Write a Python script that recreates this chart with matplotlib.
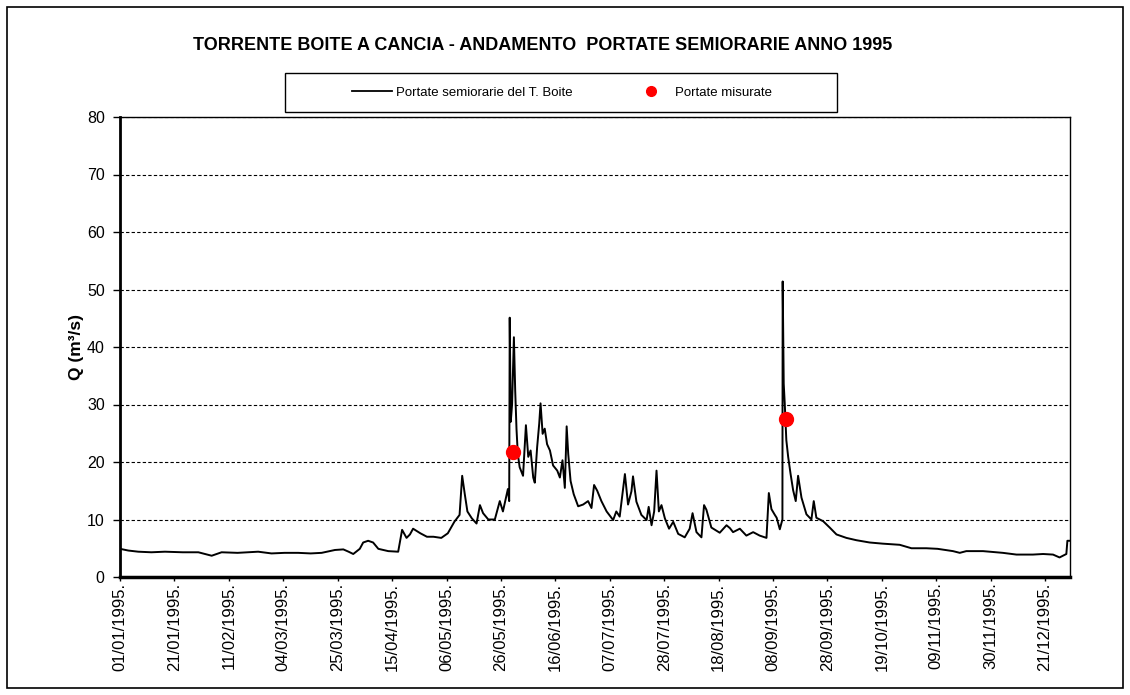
import matplotlib
matplotlib.use("Agg")
import matplotlib.pyplot as plt
import numpy as np
from matplotlib.lines import Line2D
from matplotlib.patches import Rectangle

plt.rcParams['font.family'] = ['Liberation Sans', 'DejaVu Sans']

# giorno dell'anno (0 = 01/01/1995) e portata (m3/s)
giorni = [0, 3.2, 7, 12, 17.2, 24, 30, 35.1, 38.9, 45, 49.1, 52.9, 58, 63, 68.2, 73,
          77.2, 82.3, 85.5, 87.5, 89.3, 91.8, 93.1, 95, 96.9, 98.9, 102.7, 106.5,
          108, 109.7, 111, 112.2, 115, 117.5, 120, 123, 125.5, 128, 130, 131, 132,
          133, 134.7, 136.5, 137.8, 139, 141, 143.5, 145.4, 146.6, 148.5, 149,
          149.2, 149.6, 150.1, 150.8, 151.3, 151.8, 152.3, 153, 154.3, 155.4,
          156.3, 157.2, 158.2, 158.8, 159.7, 160.5, 161, 161.8, 162.6, 163.5,
          164.6, 165.8, 167.4, 168.4, 169.4, 170.3, 171, 171.6, 172.5, 173.7,
          175.4, 177.3, 179.2, 180.5, 181.5, 182.7, 184.3, 186.3, 188.8, 190,
          191.3, 193.3, 194.5, 195.8, 196.4, 197.7, 199.6, 201.6, 202.4, 203.5,
          204.5, 205.4, 206.3, 207.3, 208.6, 210.2, 211.8, 213.7, 216.2, 218.1,
          219.2, 220.7, 222.6, 223.6, 224.5, 226.4, 229.6, 232.2, 233.5, 234.7,
          237.3, 239.8, 242.4, 244.9, 247.5, 248.4, 249.4, 250.7, 251.4, 252.6,
          253.6, 253.7, 254.1, 254.5, 255.1, 255.8, 256.7, 257.7, 258.7, 259.6,
          260.9, 262.8, 264.7, 265.6, 266.6, 269.2, 271.7, 274.3, 278.1, 281.9,
          287, 292, 298.5, 303, 308.7, 313, 318.9, 321.5, 324, 330.4, 338, 343.2,
          349.5, 353.4, 357.2, 359.7, 362.3, 362.7, 363.6]
portate = [4.9, 4.6, 4.4, 4.3, 4.4, 4.3, 4.3, 3.7, 4.3, 4.2, 4.3, 4.4, 4.1, 4.2, 4.2, 4.1,
           4.2, 4.7, 4.8, 4.4, 4.0, 4.9, 6.0, 6.3, 6.0, 4.9, 4.5, 4.4,
           8.2, 6.8, 7.4, 8.4, 7.6, 7.0, 7.0, 6.8, 7.6, 9.6, 10.8, 17.6, 14.4,
           11.4, 10.2, 9.3, 12.5, 11.1, 10.0, 10.0, 13.2, 11.4, 15.3, 13.2,
           45.1, 27.0, 30.0, 41.7, 32.4, 25.7, 21.4, 19.1, 17.6, 26.4,
           20.9, 22.0, 17.3, 16.4, 22.6, 26.7, 30.2, 24.9, 25.8, 23.1,
           22.0, 19.4, 18.5, 17.3, 20.3, 15.5, 26.2, 21.4, 16.7, 14.4,
           12.3, 12.6, 13.2, 12.0, 16.0, 15.0, 13.2, 11.4, 9.9, 11.4,
           10.5, 17.9, 12.6, 14.9, 17.5, 13.1, 10.8, 9.9, 12.2, 9.0,
           11.4, 18.5, 11.4, 12.5, 10.2, 8.4, 9.6, 7.5, 6.9, 8.4,
           11.1, 7.8, 6.9, 12.5, 11.7, 8.6, 7.7, 9.0, 8.5, 7.8,
           8.4, 7.2, 7.8, 7.2, 6.8, 14.6, 11.8, 10.8, 10.3, 8.3,
           10.0, 51.4, 33.6, 30.1, 23.8, 20.9, 18.0, 15.1, 13.2, 17.6,
           13.8, 10.9, 10.0, 13.2, 10.3, 9.7, 8.6, 7.4, 6.8, 6.4,
           6.0, 5.8, 5.6, 5.0, 5.0, 4.9, 4.5, 4.2, 4.5, 4.5, 4.2, 3.9,
           3.9, 4.0, 3.9, 3.4, 4.0, 6.3, 6.3]

# portate misurate
giorni_mis = [150.5, 254.8]
portate_mis = [21.7, 27.5]

# etichette asse x (una ogni 1000 dati semiorari)
etichette = ['01/01/1995.', '21/01/1995.', '11/02/1995.', '04/03/1995.', '25/03/1995.',
             '15/04/1995.', '06/05/1995.', '26/05/1995.', '16/06/1995.', '07/07/1995.',
             '28/07/1995.', '18/08/1995.', '08/09/1995.', '28/09/1995.', '19/10/1995.',
             '09/11/1995.', '30/11/1995.', '21/12/1995.']
posizioni = np.arange(len(etichette)) * 1000 / 48.0

W, H = 1130, 695
fig = plt.figure(figsize=(W / 100, H / 100), dpi=100)
ax = fig.add_axes([120 / W, 1 - 577 / H, 950 / W, 460 / H])

ax.plot(giorni, portate, color='black', lw=1.4, zorder=3)
ax.plot(giorni_mis, portate_mis, 'o', color='#ff0000', ms=10, zorder=4)

ax.set_xlim(0, 363.7)
ax.set_ylim(0, 80)
ax.set_yticks(np.arange(0, 81, 10))
ax.set_xticks(posizioni)
ax.set_xticklabels(etichette, rotation=90, fontsize=12)
ax.tick_params(axis='y', labelsize=11.5, length=5, width=1, direction='out', pad=6)
ax.tick_params(axis='x', length=3, width=1, direction='out', pad=1)
ax.yaxis.grid(True, color='black', linestyle=(0, (3, 2)), lw=0.8)
ax.set_axisbelow(True)

ax.spines['left'].set_linewidth(2)
ax.spines['bottom'].set_linewidth(2.5)
ax.spines['top'].set_linewidth(1)
ax.spines['right'].set_linewidth(1)

ax.set_ylabel('Q (m³/s)', fontsize=12.5, fontweight='bold')
ax.yaxis.set_label_coords((84 - 120) / 950, 0.5)

fig.text(543 / W, 1 - 45 / H, 'TORRENTE BOITE A CANCIA - ANDAMENTO  PORTATE SEMIORARIE ANNO 1995',
         ha='center', va='center', fontsize=13, fontweight='bold')

# legenda
handles = [Line2D([], [], color='black', lw=1.3),
           Line2D([], [], marker='o', color='#ff0000', ls='none', ms=7)]
ax.legend(handles, ['Portate semiorarie del T. Boite', 'Portate misurate'],
          loc='center', bbox_to_anchor=(562 / W, 1 - 92.5 / H), bbox_transform=fig.transFigure,
          ncol=2, frameon=False, fontsize=9.5, handlelength=3.0, handletextpad=0.3,
          columnspacing=4.5)
fig.add_artist(Rectangle((285 / W, 1 - 112 / H), 552 / W, 39 / H, transform=fig.transFigure,
                         fill=False, edgecolor='black', lw=1))

# cornice esterna
fig.add_artist(Rectangle((7 / W, 7 / H), 1116 / W, 681 / H, transform=fig.transFigure,
                         fill=False, edgecolor='black', lw=1.2))

fig.savefig('out.png', dpi=100)
